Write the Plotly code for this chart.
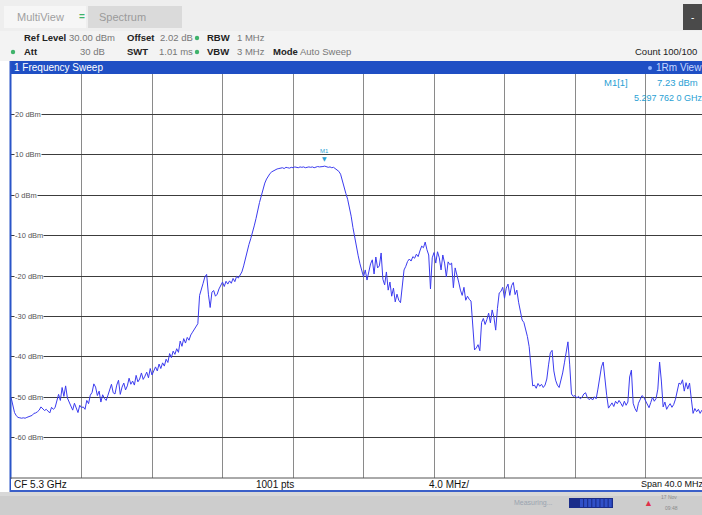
import plotly.graph_objects as go

# ---------------- data ----------------
CENTER_GHZ = 5.3
SPAN_MHZ = 40.0
F_START_MHZ = 5280.0
F_STEP_MHZ = 0.1          # sweep point spacing used for the read-off trace

level_dbm = [
    -50.0, -52.0, -53.8, -54.6, -55.0, -55.1, -55.2, -55.1, -55.2, -55.0,
    -54.8, -54.8, -54.5, -54.0, -53.9, -53.6, -53.2, -52.4, -52.9, -53.3,
    -53.0, -53.5, -53.9, -52.5, -53.0, -52.6, -51.0, -49.3, -50.8, -47.6,
    -49.8, -47.2, -50.2, -51.2, -52.3, -53.2, -51.5, -52.8, -53.8, -52.0,
    -52.6, -52.4, -53.0, -50.8, -51.6, -49.5, -48.8, -46.7, -47.5, -49.6,
    -48.5, -51.2, -49.4, -50.3, -50.8, -49.5, -48.2, -46.8, -48.9, -49.2,
    -47.0, -45.8, -49.3, -47.5, -46.5, -48.2, -47.2, -45.3, -46.8, -46.0,
    -47.0, -44.6, -46.2, -45.5, -44.0, -45.6, -44.8, -43.8, -45.2, -42.9,
    -44.5, -43.6, -42.5, -43.5, -41.8, -42.9, -41.5, -42.3, -40.6, -41.4,
    -39.2, -40.2, -38.6, -39.4, -38.0, -38.9, -36.1, -37.4, -35.5, -36.6,
    -35.2, -35.9, -34.6, -33.9, -33.2, -32.5, -31.8, -24.8, -22.9, -21.8,
    -20.2, -19.6, -24.5, -27.8, -24.0, -23.6, -25.0, -24.5, -23.2, -22.4,
    -21.5, -22.6, -21.3, -22.0, -21.2, -21.8, -20.6, -21.4, -20.1, -20.5,
    -19.8, -19.0, -17.5, -15.5, -14.0, -12.2, -10.8, -9.4, -7.6, -5.8,
    -3.6, -1.8, -0.2, 1.6, 3.0, 4.0, 4.9, 5.4, 5.8, 6.1,
    6.3, 6.5, 6.6, 6.7, 6.8, 6.6, 6.9, 6.8, 6.7, 6.9,
    6.8, 7.0, 6.9, 6.8, 7.0, 6.9, 7.0, 6.8, 6.9, 7.0,
    6.9, 7.0, 6.8, 6.9, 7.1, 7.0, 7.0, 7.1, 7.2, 7.0,
    6.9, 7.0, 6.8, 6.9, 6.6, 6.3, 5.9, 5.2, 3.4, 1.8,
    0.4, -1.0, -2.8, -5.2, -8.0, -10.6, -12.8, -15.0, -17.0, -18.8,
    -20.2, -18.5, -21.0, -19.0, -17.0, -16.0, -19.5, -15.3, -18.0, -17.5,
    -14.3, -20.8, -22.2, -19.0, -23.5, -21.5, -25.0, -23.0, -26.4, -24.5,
    -26.0, -26.6, -22.0, -18.5, -17.6, -16.4, -15.8, -16.3, -15.2, -15.6,
    -14.6, -15.2, -13.8, -12.6, -13.0, -11.6, -13.5, -14.8, -23.2, -15.5,
    -14.2, -16.8, -14.0, -15.5, -18.5, -14.8, -16.8, -20.2, -16.5, -17.2,
    -16.8, -22.9, -18.0, -19.5, -21.5, -23.5, -24.8, -22.8, -26.0, -25.0,
    -25.8, -26.2, -33.5, -38.3, -37.8, -37.0, -38.5, -31.5, -30.5, -32.0,
    -30.8, -29.2, -31.6, -28.4, -30.2, -33.4, -28.0, -24.2, -23.8, -22.8,
    -25.5, -23.0, -22.0, -24.8, -22.4, -21.6, -24.6, -23.5, -26.5, -28.6,
    -30.9, -31.5, -33.0, -35.0, -37.5, -42.0, -47.2, -47.0, -47.8, -46.6,
    -47.3, -46.8, -47.6, -47.0, -45.5, -42.0, -39.0, -38.4, -43.5, -45.8,
    -47.0, -47.6, -46.0, -44.0, -41.5, -39.0, -36.3, -42.0, -49.2, -49.8,
    -49.6, -50.2, -49.8, -50.4, -50.0, -49.2, -48.9, -50.1, -50.6, -50.2,
    -50.7, -49.9, -50.4, -48.0, -45.0, -42.5, -41.3, -46.5, -49.6, -52.7,
    -52.0, -51.4, -52.3, -51.0, -51.6, -50.8, -51.5, -52.3, -51.0, -52.0,
    -51.2, -45.0, -43.3, -51.5, -52.8, -53.6, -51.5, -50.5, -49.6, -50.0,
    -51.0, -52.0, -52.6, -51.3, -50.0, -51.0, -50.3, -48.0, -41.3, -46.0,
    -52.4, -51.2, -53.0, -52.2, -51.6, -52.5, -51.8, -50.5, -48.4, -46.5,
    -46.8, -45.7, -48.5, -46.4, -48.0, -46.5, -50.5, -54.0, -52.8, -53.6,
    -53.0, -54.0, -53.2,
]
freq_mhz = [F_START_MHZ + i * F_STEP_MHZ for i in range(len(level_dbm))]

y_tick_values = [20, 10, 0, -10, -20, -30, -40, -50, -60]
y_tick_labels = ["20 dBm", "10 dBm", "0 dBm", "-10 dBm", "-20 dBm",
                 "-30 dBm", "-40 dBm", "-50 dBm", "-60 dBm"]

marker_name = "M1"
marker_freq_mhz = 5297.762
marker_level_dbm = 7.23

# ---------------- geometry helpers (page chrome) ----------------
W, H = 702, 515
PL, PR, PT, PB = 11, 702, 74, 478       # plot box in pixels


def px(x):
    return (x - PL) / (PR - PL)


def py(y):
    return (PB - y) / (PB - PT)


FONT = "Liberation Sans"
CYAN = "#2a9fd4"
TRACE = "#3b3bef"

fig = go.Figure()
fig.add_trace(go.Scatter(
    x=freq_mhz, y=level_dbm, mode="lines",
    line=dict(color=TRACE, width=1), hoverinfo="skip", showlegend=False))

x_end = F_START_MHZ + (PR - PL) / 70.5 * (SPAN_MHZ / 10)

fig.update_layout(
    width=W, height=H,
    margin=dict(l=PL, r=W - PR, t=PT, b=H - PB, pad=0),
    paper_bgcolor="white", plot_bgcolor="white",
    showlegend=False,
    xaxis=dict(range=[F_START_MHZ, x_end], tick0=F_START_MHZ, dtick=SPAN_MHZ / 10,
               showgrid=True, gridcolor="#8a8a8a", gridwidth=1,
               showticklabels=False, ticks="", zeroline=False, showline=False),
    yaxis=dict(range=[-70, 30], tick0=-70, dtick=10,
               showgrid=True, gridcolor="#3c3c3c", gridwidth=1,
               showticklabels=False, ticks="", zeroline=False, showline=False),
)

shapes = []
ann = []


def rect(x0, y0, x1, y1, fill, line=None, lw=0):
    shapes.append(dict(type="rect", xref="paper", yref="paper",
                       x0=px(x0), x1=px(x1), y0=py(y1), y1=py(y0),
                       fillcolor=fill, line=dict(color=line or fill, width=lw),
                       layer="above"))


def hline(x0, x1, y, color, w=1):
    shapes.append(dict(type="line", xref="paper", yref="paper",
                       x0=px(x0), x1=px(x1), y0=py(y), y1=py(y),
                       line=dict(color=color, width=w), layer="above"))


def vline(x, y0, y1, color, w=1):
    shapes.append(dict(type="line", xref="paper", yref="paper",
                       x0=px(x), x1=px(x), y0=py(y0), y1=py(y1),
                       line=dict(color=color, width=w), layer="above"))


def dot(x, y, r, color):
    shapes.append(dict(type="circle", xref="paper", yref="paper",
                       x0=px(x - r), x1=px(x + r), y0=py(y + r), y1=py(y - r),
                       fillcolor=color, line=dict(color=color, width=0),
                       layer="above"))


def text(x, y, s, size=9, color="#333", bold=False, anchor="left", bg=None,
         family=FONT):
    if bold:
        s = "<b>" + s + "</b>"
    d = dict(xref="paper", yref="paper", x=px(x), y=py(y), text=s,
             showarrow=False, xanchor=anchor, yanchor="middle",
             font=dict(family=family, size=size, color=color))
    if bg:
        d.update(bgcolor=bg, borderpad=0)
    ann.append(d)


# top area
rect(0, 0, 702, 61, "#f3f3f3")
rect(0, 0, 702, 31, "#eeeeee")
rect(4, 6, 86, 28, "#f6f6f6")
rect(88, 6, 182, 28, "#dadada")
text(15, 17, "MultiView", size=11, color="#a0a0a0")
text(77, 16, "=", size=10, color="#3fb36b", bold=True)
text(97, 17, "Spectrum", size=11, color="#9a9a9a")
rect(683, 4, 702, 30, "#4a4a4a")
text(692, 17, "-", size=10, color="white", anchor="center")

# info lines
S = 9.5
text(22, 38, "Ref Level", size=S, color="#222", bold=True)
text(67, 38, "30.00 dBm", size=S, color="#777")
text(125, 38, "Offset", size=S, color="#222", bold=True)
text(158, 38, "2.02 dB", size=S, color="#777")
dot(197, 38, 2.2, "#3fb36b")
text(205, 38, "RBW", size=S, color="#222", bold=True)
text(235, 38, "1 MHz", size=S, color="#777")

dot(13, 52, 2.2, "#3fb36b")
text(22, 52, "Att", size=S, color="#222", bold=True)
text(107, 52, "30 dB", size=S, color="#777", anchor="right")
text(125, 52, "SWT", size=S, color="#222", bold=True)
text(157, 52, "1.01 ms", size=S, color="#777")
dot(197, 52, 2.2, "#3fb36b")
text(205, 52, "VBW", size=S, color="#222", bold=True)
text(235, 52, "3 MHz", size=S, color="#777")
text(271, 52, "Mode", size=S, color="#222", bold=True)
text(298, 52, "Auto Sweep", size=S, color="#777")
text(633, 52, "Count 100/100", size=S, color="#222")

# title bar
rect(10, 61, 702, 74, "#1f4fc4")
text(12, 67.5, "1 Frequency Sweep", size=10, color="white")
dot(650, 68, 2, "#8fb4ff")
text(654, 67.5, "1Rm View", size=10, color="#c8d8ff")

# left border, bottom row, status bar
vline(10.5, 61, 492, "#2a55c8", 2)
hline(10, 702, 478, "#555555", 1)
rect(11, 479, 702, 490, "white")
hline(10, 702, 491, "#3a5fc8", 2)
rect(0, 492, 702, 515, "#cdcdcd")
rect(0, 492, 702, 496, "#d8d8d8")
text(12, 484.5, "CF 5.3 GHz", size=10, color="#111")
text(275, 484.5, "1001 pts", size=10, color="#111", anchor="center")
text(427, 484.5, "4.0 MHz/", size=10, color="#111")
text(639, 484.5, "Span 40.0 MHz", size=9, color="#111")

text(512, 503, "Measuring...", size=7, color="#9aa4b0")
rect(569, 498, 613, 508, "#1b2d8a")
for i in range(8):
    rect(580 + i * 4.1, 499, 583 + i * 4.1, 507, "#3050c8")
text(648, 503, "▲", size=9, color="#e0304a", anchor="center")
text(659, 497, "17 Nov", size=5, color="#8a8a8a")
text(663, 508, "09:48", size=5, color="#8a8a8a")

# y-axis labels inside the plot
for v, lab in zip(y_tick_values, y_tick_labels):
    ann.append(dict(xref="paper", yref="y", x=px(14), y=v, text=lab,
                    showarrow=False, xanchor="left", yanchor="middle",
                    font=dict(family=FONT, size=7.5, color="#555"),
                    bgcolor="white", borderpad=0))

# marker M1
ann.append(dict(xref="x", yref="y", x=marker_freq_mhz, y=marker_level_dbm,
                text="▼", showarrow=False, yshift=7, xanchor="center",
                font=dict(family="DejaVu Sans", size=6, color=CYAN)))
ann.append(dict(xref="x", yref="y", x=marker_freq_mhz, y=marker_level_dbm,
                text=marker_name, showarrow=False, yshift=15, xanchor="center",
                font=dict(family=FONT, size=6, color=CYAN)))

# marker readout
text(602, 82, "M1[1]", size=9.5, color=CYAN)
text(655, 82, f"{marker_level_dbm:.2f} dBm", size=9.5, color=CYAN)
text(632, 98, "5.297 762 0 GHz", size=9, color=CYAN)

fig.update_layout(shapes=shapes, annotations=ann)
fig.write_html("out.html",
               config={"displayModeBar": False},
               post_script="document.body.style.margin='0px';"
                           "document.body.style.overflow='hidden';")
